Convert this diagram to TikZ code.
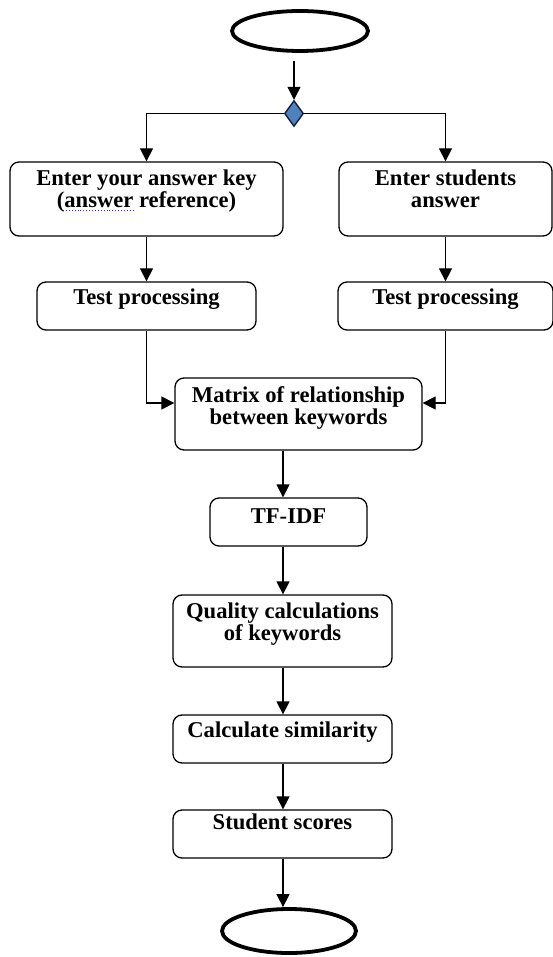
\documentclass[tikz,border=0pt]{standalone}
\usepackage{fontspec}
\setmainfont{Liberation Serif}
\usetikzlibrary{shapes.geometric,arrows.meta}
\definecolor{diafill}{RGB}{79,129,189}
\definecolor{diadraw}{RGB}{20,30,60}
\definecolor{spellblue}{RGB}{40,40,230}
\begin{document}
\begin{tikzpicture}[x=1pt,y=-1pt,
  box/.style={draw, line width=1.3pt, rounded corners=9pt, inner sep=0pt},
  txt/.style={font=\bfseries\fontsize{22.6}{22}\selectfont, align=center, inner sep=0pt, text height=15pt, text depth=5pt},
  term/.style={draw, ellipse, line width=3.8pt, inner sep=0pt},
  arr/.style={line width=1.3pt, -{Triangle[width=13pt,length=13pt]}},
]
\useasboundingbox (0,0) rectangle (553,957);
\coordinate (col) at (283,0);
% terminals and diamond
\node[term, minimum width=136pt, minimum height=40pt] (start) at (300,31) {};
\node[diamond, draw=diadraw, fill=diafill, line width=1.4pt, minimum width=19pt, minimum height=26pt, inner sep=0pt] (dia) at (294,113.5) {};
\node[term, minimum width=134pt, minimum height=44pt] (end) at (289,931) {};
% boxes
\node[box, minimum width=273pt, minimum height=74pt] (key) at (146.5,199) {};
\node[box, minimum width=213pt, minimum height=74pt] (stu) at (445.5,199) {};
\node[box, minimum width=219pt, minimum height=48pt] (test1) at (146.5,306) {};
\node[box, minimum width=215pt, minimum height=48pt] (test2) at (445.5,306) {};
\node[box, minimum width=247pt, minimum height=72pt] (mx) at (298.5,414) {};
\node[box, minimum width=157pt, minimum height=48pt] (tf) at (288.5,522) {};
\node[box, minimum width=219pt, minimum height=72pt] (q) at (282.5,631) {};
\node[box, minimum width=219pt, minimum height=48pt] (calc) at (282.5,739) {};
\node[box, minimum width=219pt, minimum height=48pt] (st) at (282.5,834) {};
% texts (multi-line nodes: centre = last baseline - 5)
\node[txt] (keyt) at (146.5,203) {Enter your answer key\\(answer reference)};
\node[txt] (stut) at (445.5,203) {Enter students\\answer};
\node[txt] (test1t) at (146.5,299) {Test processing};
\node[txt] (test2t) at (445.5,299) {Test processing};
\node[txt] (mxt) at (298.5,419) {Matrix of relationship\\between keywords};
\node[txt] (tft) at (288.5,518.5) {TF-IDF};
\node[txt] (qt) at (282.5,635) {Quality calculations\\of keywords};
\node[txt] (calct) at (282.5,732.7) {Calculate similarity};
\node[txt] (stt) at (282.5,824.3) {Student scores};
% spell-check mark under "answer"
\draw[spellblue, line width=0.9pt, dotted] (63,210.5) -- (133,210.5);
% connectors
\draw[arr, shorten <=8pt] (start.south -| dia.north) -- (dia.north);
\draw[arr] (dia.west) -| (key.north);
\draw[arr] (dia.east) -| (stu.north);
\draw[arr] (key.south) -- (test1.north);
\draw[arr] (stu.south) -- (test2.north);
\draw[arr] (test1.south) |- ([yshift=11pt]mx.west);
\draw[arr] (test2.south) |- ([yshift=11pt]mx.east);
\draw[arr] (mx.south -| col) -- (tf.north -| col);
\draw[arr] (tf.south -| col) -- (q.north -| col);
\draw[arr] (q.south -| col) -- (calc.north -| col);
\draw[arr] (calc.south -| col) -- (st.north -| col);
\draw[arr] (st.south -| col) -- (end.north -| col);
\end{tikzpicture}
\end{document}
